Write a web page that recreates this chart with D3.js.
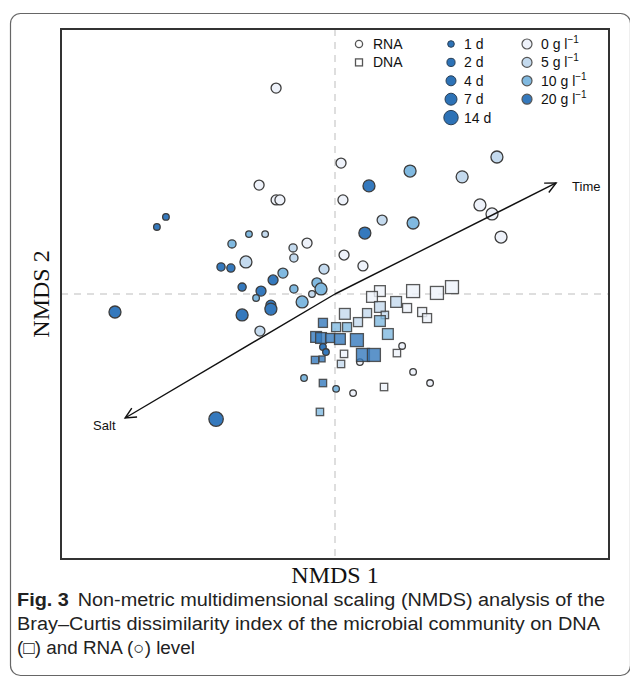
<!DOCTYPE html>
<html><head><meta charset="utf-8">
<script src="https://cdn.jsdelivr.net/npm/d3@7"></script>
<style>body{margin:0;background:#fff}</style>
</head><body><svg id="c" width="630" height="678"></svg>
<script>
// RNA samples: [NMDS1, NMDS2, day, salt g/l]
const rnaPoints = [
 [-0.215,0.777,4,0],[-0.277,0.411,4,0],[-0.215,0.355,4,0],[-0.201,0.355,4,0],
 [-0.617,0.291,1,20],[-0.650,0.253,1,20],[-0.314,0.226,1,10],[-0.255,0.226,1,5],
 [-0.376,0.189,2,10],[-0.102,0.192,4,0],[-0.153,0.174,2,5],[-0.150,0.136,2,5],
 [-0.325,0.121,7,5],[-0.416,0.102,2,20],[-0.380,0.098,2,20],[-0.190,0.079,4,10],
 [-0.040,0.094,4,5],[-0.226,0.053,4,20],[-0.339,0.026,2,20],[-0.270,0.011,4,20],
 [-0.288,-0.015,1,10],[-0.150,0.019,2,10],[-0.066,0.042,4,10],[-0.051,0.019,7,10],
 [-0.084,0.000,1,5],[-0.120,-0.030,7,10],[-0.234,-0.042,4,20],[-0.234,-0.057,7,20],
 [-0.339,-0.079,7,20],[-0.274,-0.140,4,5],[-0.803,-0.068,7,20],[-0.434,-0.472,14,20],
 [-0.113,-0.317,1,10],[-0.044,-0.200,1,20],[-0.033,-0.219,1,20],[0.004,-0.358,1,10],
 [0.066,-0.374,1,0],[0.245,-0.196,1,0],[0.091,-0.257,1,0],[0.285,-0.294,1,0],
 [0.347,-0.336,1,0],[0.022,0.494,4,0],[0.029,0.355,4,0],[0.033,0.147,4,0],
 [0.102,0.106,4,0],[0.124,0.408,7,20],[0.109,0.230,7,20],[0.172,0.279,4,5],
 [0.274,0.464,7,10],[0.285,0.268,7,10],[0.464,0.442,7,5],[0.591,0.517,7,5],
 [0.529,0.336,7,0],[0.573,0.302,7,0],[0.606,0.215,7,0]
];
// DNA samples: [NMDS1, NMDS2, day, salt g/l]
const dnaPoints = [
 [0.164,0.011,7,0],[0.135,-0.011,7,0],[0.285,0.011,14,0],[0.372,0.004,14,0],
 [0.427,0.026,14,0],[0.164,-0.049,7,5],[0.223,-0.030,7,5],[0.263,-0.053,4,0],
 [0.318,-0.068,4,0],[0.336,-0.091,4,0],[0.117,-0.072,4,5],[0.036,-0.075,7,5],
 [0.182,-0.079,2,5],[0.164,-0.102,7,10],[0.084,-0.106,4,5],[0.193,-0.151,7,10],
 [0.004,-0.125,4,10],[0.044,-0.125,4,10],[-0.044,-0.109,4,20],[-0.069,-0.162,7,20],
 [-0.051,-0.166,7,20],[-0.018,-0.166,4,20],[0.018,-0.170,7,20],[0.080,-0.174,14,20],
 [0.102,-0.230,14,20],[0.142,-0.230,14,20],[0.226,-0.223,2,0],[0.033,-0.226,2,0],
 [-0.073,-0.249,2,20],[-0.047,-0.245,1,20],[0.022,-0.264,2,5],[-0.044,-0.336,2,20],
 [0.179,-0.351,2,0],[-0.055,-0.445,2,10]
];
const dayLevels = [1,2,4,7,14];
const dayLabels = ["1 d","2 d","4 d","7 d","14 d"];
const saltLevels = [0,5,10,20];
const saltLabels = ["0","5","10","20"];
const vectorNames = ["Time","Salt"];
const vectorX = [0.807,-0.766];
const vectorY = [0.419,-0.468];
const captionLine1 = "Non-metric multidimensional scaling (NMDS) analysis of the";
const captionLine2 = "Bray\u2013Curtis dissimilarity index of the microbial community on DNA";
const captionLine3 = "(\u25A1) and RNA (\u25CB) level";

const svg = d3.select("#c");
const x = d3.scaleLinear().domain([-1,1]).range([61,609]);
const y = d3.scaleLinear().domain([-1,1]).range([559,29]);
const r = d3.scaleOrdinal().domain(dayLevels).range([3.3,4.1,5.0,6.0,7.2]);
const col = d3.scaleOrdinal().domain(saltLevels).range(["#eef2fa","#c4daee","#80b9e0","#3579bd"]);
const stroke = "#3c3c3c";

// outer rounded border
svg.append("rect").attr("x",10.5).attr("y",13.5).attr("width",620).attr("height",662)
  .attr("rx",10).attr("fill","none").attr("stroke","#666").attr("stroke-width",1.2);

// dashed zero lines
svg.append("line").attr("x1",x(0)).attr("x2",x(0)).attr("y1",y(1)).attr("y2",y(-1))
  .attr("stroke","#d4d4d4").attr("stroke-width",1.5).attr("stroke-dasharray","7,6");
svg.append("line").attr("x1",x(-1)).attr("x2",x(1)).attr("y1",y(0)).attr("y2",y(0))
  .attr("stroke","#d4d4d4").attr("stroke-width",1.5).attr("stroke-dasharray","7,6");

// RNA circles
svg.append("g").selectAll("circle").data(rnaPoints).join("circle")
  .attr("cx",d=>x(d[0])).attr("cy",d=>y(d[1])).attr("r",d=>r(d[2]))
  .attr("fill",d=>col(d[3])).attr("stroke",stroke).attr("stroke-width",1.3);

// DNA squares
svg.append("g").selectAll("rect").data(dnaPoints).join("rect")
  .attr("x",d=>x(d[0])-r(d[2])*0.9).attr("y",d=>y(d[1])-r(d[2])*0.9)
  .attr("width",d=>r(d[2])*1.8).attr("height",d=>r(d[2])*1.8)
  .attr("fill",d=>col(d[3])).attr("fill-opacity",0.8)
  .attr("stroke",stroke).attr("stroke-opacity",0.85).attr("stroke-width",1.3);

// vectors
vectorNames.forEach((name,i)=>{
  const x0=x(0), y0=y(0), x1=x(vectorX[i]), y1=y(vectorY[i]);
  const ang=Math.atan2(y1-y0,x1-x0), L=12, a=Math.PI/7;
  const g=svg.append("g").attr("stroke","#111").attr("stroke-width",1.4).attr("fill","none");
  g.append("line").attr("x1",x0).attr("y1",y0).attr("x2",x1).attr("y2",y1);
  g.append("path").attr("d",`M${x1-L*Math.cos(ang-a)},${y1-L*Math.sin(ang-a)}L${x1},${y1}L${x1-L*Math.cos(ang+a)},${y1-L*Math.sin(ang+a)}`);
  svg.append("text").attr("x", i===0 ? x1+16 : x1-32).attr("y", i===0 ? y1+8 : y1+12)
    .attr("font-family","Liberation Sans, Arial").attr("font-size",13).attr("fill","#111").text(name);
});

// frame
svg.append("rect").attr("x",61).attr("y",29).attr("width",548).attr("height",530)
  .attr("fill","none").attr("stroke","#333").attr("stroke-width",2);

// legend
const lf = "Liberation Sans, Arial";
const lg = svg.append("g").attr("font-family",lf).attr("font-size",14).attr("fill","#111");
const ly = i => 44 + i*18.4;
lg.append("circle").attr("cx",359).attr("cy",ly(0)).attr("r",3.6).attr("fill","#fff").attr("stroke","#555").attr("stroke-width",1.3);
lg.append("text").attr("x",373).attr("y",ly(0)+5).text("RNA");
lg.append("rect").attr("x",355.5).attr("y",ly(1)-3.5).attr("width",7).attr("height",7).attr("fill","#fff").attr("stroke","#555").attr("stroke-width",1.3);
lg.append("text").attr("x",373).attr("y",ly(1)+5).text("DNA");
dayLevels.forEach((d,i)=>{
  lg.append("circle").attr("cx",451).attr("cy",ly(i)).attr("r",r(d)).attr("fill","#2d72b6").attr("stroke","#2a3f55").attr("stroke-width",1);
  lg.append("text").attr("x",464).attr("y",ly(i)+5).text(dayLabels[i]);
});
saltLevels.forEach((s,i)=>{
  lg.append("circle").attr("cx",527).attr("cy",ly(i)).attr("r",5).attr("fill",col(s)).attr("stroke","#555").attr("stroke-width",1.2);
  const t = lg.append("text").attr("x",541).attr("y",ly(i)+5);
  t.append("tspan").text(saltLabels[i]+" g l");
  t.append("tspan").attr("font-size",10).attr("dy",-6).text("\u22121");
});

// axis titles
svg.append("text").attr("x",335).attr("y",583).attr("text-anchor","middle")
  .attr("font-family","Liberation Serif, Times New Roman").attr("font-size",24).attr("fill","#111").text("NMDS 1");
svg.append("text").attr("transform","translate(49,294) rotate(-90)").attr("text-anchor","middle")
  .attr("font-family","Liberation Serif, Times New Roman").attr("font-size",24).attr("fill","#111").text("NMDS 2");

// caption
const cf = "Liberation Sans, Arial, sans-serif";
const c1 = svg.append("text").attr("x",17).attr("y",606).attr("font-family",cf).attr("font-size",18).attr("fill","#222")
  .attr("textLength",588).attr("lengthAdjust","spacingAndGlyphs");
c1.append("tspan").attr("font-weight","bold").text("Fig. 3");
c1.append("tspan").attr("dx",8).text(captionLine1);
svg.append("text").attr("x",17).attr("y",630).attr("font-family",cf).attr("font-size",18).attr("fill","#222")
  .attr("textLength",583).attr("lengthAdjust","spacingAndGlyphs").text(captionLine2);
svg.append("text").attr("x",17).attr("y",654).attr("font-family",cf).attr("font-size",18).attr("fill","#222")
  .attr("textLength",178).attr("lengthAdjust","spacingAndGlyphs").text(captionLine3);
</script></body></html>
